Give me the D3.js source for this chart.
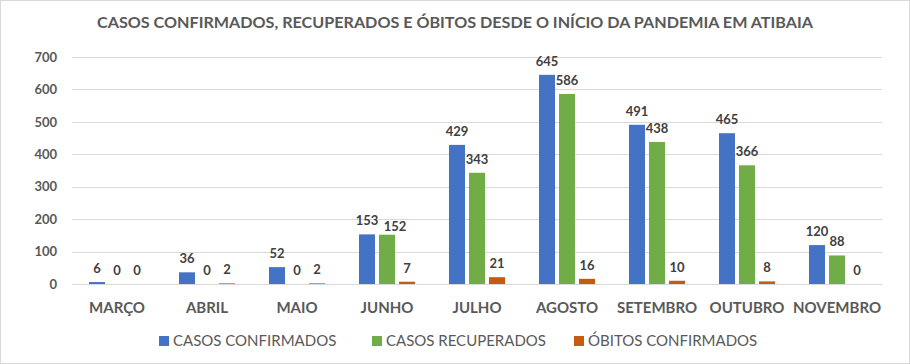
<!DOCTYPE html>
<html>
<head>
<meta charset="utf-8">
<script src="https://cdn.jsdelivr.net/npm/d3@7"></script>
<style>
  body { margin: 0; background: #fff; }
  svg { font-family: Lato, "Open Sans", sans-serif; }
</style>
</head>
<body>
<div id="vis-container"></div>
<script>
// Data
const months = ["MARÇO", "ABRIL", "MAIO", "JUNHO", "JULHO", "AGOSTO", "SETEMBRO", "OUTUBRO", "NOVEMBRO"];
const confirmados = [6, 36, 52, 153, 429, 645, 491, 465, 120];
const recuperados = [0, 0, 0, 152, 343, 586, 438, 366, 88];
const obitos = [0, 2, 2, 7, 21, 16, 10, 8, 0];
const seriesNames = ["CASOS CONFIRMADOS", "CASOS RECUPERADOS", "ÓBITOS CONFIRMADOS"];
const seriesColors = ["#4472C4", "#70AD47", "#C55A11"];
const yTicks = [0, 100, 200, 300, 400, 500, 600, 700];
const title = "CASOS CONFIRMADOS, RECUPERADOS E ÓBITOS DESDE O INÍCIO DA PANDEMIA EM ATIBAIA";

const width = 910;
const height = 364;
const margin = { top: 57, right: 28, bottom: 80, left: 72 };

const svg = d3.select("#vis-container")
  .append("svg")
  .attr("width", width)
  .attr("height", height);

// chart border
svg.append("rect")
  .attr("x", 0.5).attr("y", 0.5)
  .attr("width", width - 1).attr("height", height - 1)
  .attr("fill", "#fff")
  .attr("stroke", "#d9d9d9");

// Title
svg.append("text")
  .attr("x", 455)
  .attr("y", 28)
  .attr("text-anchor", "middle")
  .attr("font-size", "16px")
  .attr("font-weight", "bold")
  .attr("fill", "#595959")
  .attr("textLength", 716)
  .attr("lengthAdjust", "spacingAndGlyphs")
  .text(title);

// Scales
const x0 = d3.scaleBand()
  .domain(months)
  .range([margin.left, width - margin.right])
  .padding(0);

const x1 = d3.scaleBand()
  .domain(d3.range(3))
  .range([0, x0.bandwidth()])
  .paddingInner(0.2)
  .paddingOuter(0.85);

const yScale = d3.scaleLinear()
  .domain([0, 700])
  .range([height - margin.bottom, margin.top]);

// Gridlines
svg.append("g")
  .selectAll("line")
  .data(yTicks)
  .enter()
  .append("line")
  .attr("x1", margin.left)
  .attr("x2", width - margin.right)
  .attr("y1", (d) => Math.round(yScale(d)) + 0.5)
  .attr("y2", (d) => Math.round(yScale(d)) + 0.5)
  .attr("stroke", "#d9d9d9")
  .attr("stroke-width", 1);

// Y axis labels
const yAxis = svg.append("g")
  .attr("transform", `translate(${margin.left - 15},0)`)
  .call(d3.axisLeft(yScale).tickValues(yTicks).tickSize(0).tickPadding(0));
yAxis.select(".domain").remove();
yAxis.selectAll("text")
  .attr("font-family", "Lato, sans-serif")
  .attr("font-size", "13px")
  .attr("font-weight", "bold")
  .attr("fill", "#595959");

// X axis labels
const xAxis = svg.append("g")
  .attr("transform", `translate(0,${height - margin.bottom})`)
  .call(d3.axisBottom(x0).tickSize(0).tickPadding(18));
xAxis.select(".domain").remove();
xAxis.selectAll("text")
  .attr("font-family", "Lato, sans-serif")
  .attr("font-size", "15px")
  .attr("font-weight", "bold")
  .attr("fill", "#595959");

// Bars
const rows = months.map((m, i) => ({ month: m, values: [confirmados[i], recuperados[i], obitos[i]] }));

const groups = svg.append("g")
  .selectAll("g")
  .data(rows)
  .enter()
  .append("g")
  .attr("transform", (d) => `translate(${x0(d.month)},0)`);

groups.selectAll("rect")
  .data((d) => d.values.map((v, s) => ({ s: s, v: v })))
  .enter()
  .append("rect")
  .attr("x", (d) => x1(d.s))
  .attr("y", (d) => yScale(d.v))
  .attr("width", x1.bandwidth())
  .attr("height", (d) => yScale(0) - yScale(d.v))
  .attr("fill", (d) => seriesColors[d.s]);

// Data labels (nudge a label right/down when it would collide with its left neighbour)
groups.selectAll("text")
  .data((d) => d.values.map((v, s) => ({ s: s, v: v, prev: s > 0 ? d.values[s - 1] : null })))
  .enter()
  .append("text")
  .attr("x", (d) => {
    const clash = d.prev !== null && String(d.v).length > 2 && Math.abs(yScale(d.v) - yScale(d.prev)) < 8;
    return x1(d.s) + x1.bandwidth() / 2 + (clash ? 8 : 0);
  })
  .attr("y", (d) => {
    const clash = d.prev !== null && String(d.v).length > 2 && Math.abs(yScale(d.v) - yScale(d.prev)) < 8;
    return yScale(d.v) - 9 + (clash ? 5 : 0);
  })
  .attr("text-anchor", "middle")
  .attr("font-size", "13px")
  .attr("font-weight", "bold")
  .attr("fill", "#404040")
  .text((d) => d.v);

// Legend
const legendX = [159, 372, 574];
const legend = svg.append("g")
  .selectAll("g")
  .data(seriesNames)
  .enter()
  .append("g")
  .attr("transform", (d, i) => `translate(${legendX[i]},336)`);

legend.append("rect")
  .attr("width", 10)
  .attr("height", 10)
  .attr("fill", (d, i) => seriesColors[i]);

legend.append("text")
  .attr("x", 14)
  .attr("y", 10)
  .attr("font-size", "15px")
  .attr("fill", "#595959")
  .text((d) => d);
</script>
</body>
</html>
